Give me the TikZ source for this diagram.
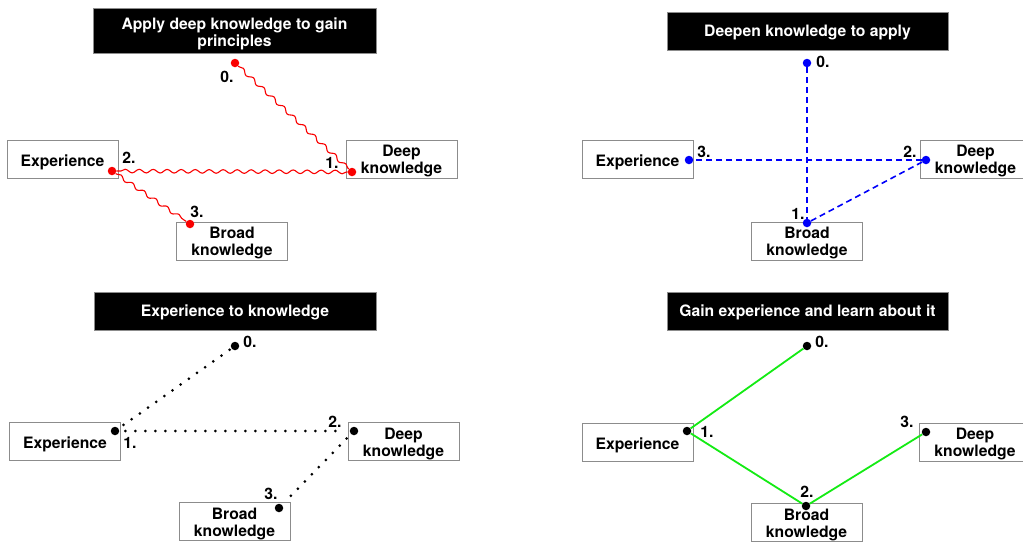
\documentclass[tikz,border=0pt]{standalone}
\usepackage{fontspec}
\setmainfont{TeX Gyre Heros}
\usetikzlibrary{decorations.pathmorphing}
\definecolor{boxedge}{RGB}{140,140,140}
\definecolor{wavered}{RGB}{250,0,0}
\definecolor{dashblue}{RGB}{0,0,250}
\definecolor{linegreen}{RGB}{20,235,20}
\tikzset{
  every node/.style={font=\bfseries\fontsize{15.7}{16.8}\selectfont},
  concept/.style={draw=boxedge, line width=0.9pt, fill=white, minimum width=111pt,
    minimum height=38pt, align=center, inner sep=0pt},
  heading/.style={draw=boxedge, line width=0.9pt, fill=black, text=white, align=center,
    minimum height=38pt, inner sep=0pt},
  oneline/.style={execute at begin node={\rule{0pt}{17.6pt}}},
  twoline/.style={execute at begin node={\rule{0pt}{32.5pt}}},
  titleline/.style={execute at begin node={\rule{0pt}{14.6pt}}},
  pin/.style={circle, fill=#1, inner sep=0pt, minimum size=8.5pt},
  num/.style={inner sep=0pt},
  wavy/.style={draw=wavered, line width=1.1pt, decorate,
    decoration={snake, amplitude=1.8pt, segment length=14pt, pre length=1pt, post length=1pt}},
  dashline/.style={draw=dashblue, line width=1.6pt, dash pattern=on 6pt off 4pt},
  dotline/.style={draw=black, line width=3pt, line cap=round,
    dash pattern=on 0pt off 10pt, shorten <=6pt, shorten >=6pt},
  greenline/.style={draw=linegreen, line width=1.8pt},
}
\begin{document}
\begin{tikzpicture}[x=1pt, y=-1pt]
\clip (0,0) rectangle (1023,542);
\fill[white] (0,0) rectangle (1023,542);

% ---- Apply deep knowledge to gain principles ----
\node[heading, minimum width=283pt, minimum height=45pt,
  execute at begin node={\rule{0pt}{34pt}}] (t1) at (234.5,30.8) {Apply deep knowledge to gain\\principles};
\node[concept, oneline] (e1) at (62.5,159) {Experience};
\node[concept, twoline] (d1) at (401.5,159) {Deep\\knowledge};
\node[concept, twoline] (b1) at (232,241) {Broad\\knowledge};
\node[pin=wavered] (a0) at (235,63) {};
\node[pin=wavered] (a1) at (352,172) {};
\node[pin=wavered] (a2) at (112,171) {};
\node[pin=wavered] (a3) at (190,224) {};
\node[num] at (227,77) {0.};
\node[num] at (332,163) {1.};
\node[num] at (129,158) {2.};
\node[num] at (197,212) {3.};
\draw[wavy] (a0) -- (a1);
\draw[wavy] (a1) -- (a2);
\draw[wavy] (a2) -- (a3);

% ---- Deepen knowledge to apply ----
\node[heading, titleline, minimum width=281pt] (t2) at (807.5,31) {Deepen knowledge to apply};
\node[concept, oneline] (e2) at (637.5,159) {Experience};
\node[concept, twoline] (d2) at (975.5,159) {Deep\\knowledge};
\node[concept, twoline] (b2) at (807,241) {Broad\\knowledge};
\node[pin=dashblue] (c0) at (807,63) {};
\node[pin=dashblue] (c1) at (807,223) {};
\node[pin=dashblue] (c2) at (926,160) {};
\node[pin=dashblue] (c3) at (689,160) {};
\node[num] at (823,62) {0.};
\node[num] at (798,214) {1.};
\node[num] at (910,152) {2.};
\node[num] at (704,152) {3.};
\draw[dashline] (c0) -- (c1);
\draw[dashline] (c1) -- (c2);
\draw[dashline] (c2) -- (c3);

% ---- Experience to knowledge ----
\node[heading, titleline, minimum width=282pt] (t3) at (235,311) {Experience to knowledge};
\node[concept, oneline] (e3) at (65,441.5) {Experience};
\node[concept, twoline] (d3) at (403.5,441.5) {Deep\\knowledge};
\node[concept, twoline] (b3) at (234.5,521.5) {Broad\\knowledge};
\node[pin=black] (k0) at (235,346) {};
\node[pin=black] (k1) at (115,431) {};
\node[pin=black] (k2) at (354,431) {};
\node[pin=black] (k3) at (279,508) {};
\node[num] at (250,342) {0.};
\node[num] at (130,443) {1.};
\node[num] at (335,422) {2.};
\node[num] at (271,494) {3.};
\draw[dotline, shorten >=0pt] (k1) -- (k0);
\draw[dotline] (k1) -- (k2);
\draw[dotline] (k2) -- (k3);

% ---- Gain experience and learn about it ----
\node[heading, titleline, minimum width=281pt] (t4) at (807.5,311) {Gain experience and learn about it};
\node[concept, oneline] (e4) at (637.5,442) {Experience};
\node[concept, twoline] (d4) at (975,442) {Deep\\knowledge};
\node[concept, twoline] (b4) at (806.5,522.5) {Broad\\knowledge};
\node[pin=black] (g0) at (807,346) {};
\node[pin=black] (g1) at (687,431) {};
\node[pin=black] (g2) at (806,506) {};
\node[pin=black] (g3) at (926,432) {};
\node[num] at (822,342) {0.};
\node[num] at (707,432) {1.};
\node[num] at (807,492) {2.};
\node[num] at (907,422) {3.};
\draw[greenline] (g0) -- (g1);
\draw[greenline] (g1) -- (g2);
\draw[greenline] (g2) -- (g3);
\end{tikzpicture}
\end{document}
